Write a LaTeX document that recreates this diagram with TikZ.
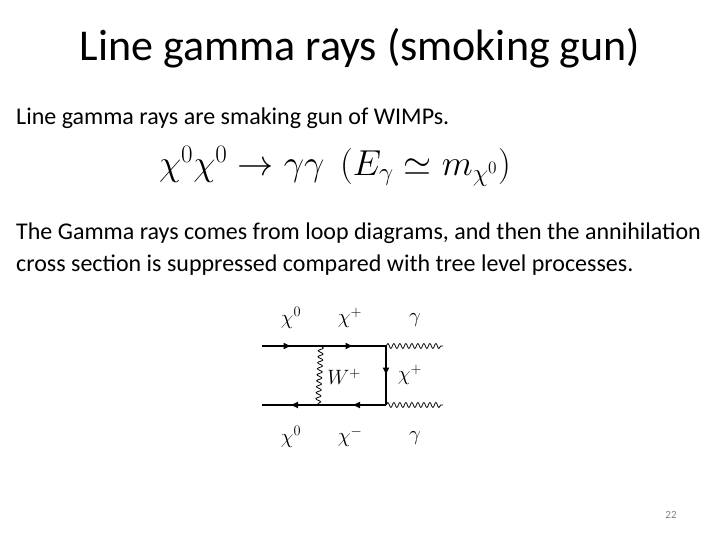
\documentclass[tikz,border=0pt]{standalone}
\usepackage{fontspec}
\setmainfont{Carlito}
\usetikzlibrary{decorations.pathmorphing,decorations.markings,arrows.meta}
\begin{document}
\begin{tikzpicture}[x=1pt,y=-1pt,
  txt/.style={anchor=west,inner sep=0pt,font=\fontsize{24}{28}\selectfont},
  lab/.style={inner sep=0pt,font=\fontsize{20}{24}\selectfont},
  fer/.style={line width=1.3pt,postaction={decorate},decoration={markings,mark=at position 0.5 with {\arrow{Latex[length=8pt,width=7pt]}}}},
  pho/.style={line width=0.8pt,decorate,decoration={snake,amplitude=2.5pt,segment length=6pt}}]
\useasboundingbox (0,0) rectangle (720,540);
\node[inner sep=0pt,font=\fontsize{44}{50}\selectfont] (title) at (360,48) {Line gamma rays (smoking gun)};
\node[txt] (l1) at (16,118) {Line gamma rays are smaking gun of WIMPs.};
\node[inner sep=0pt,scale=1.45,font=\fontsize{24}{28}\selectfont] (eq) at (335,166) {$\chi^0\chi^0 \to \gamma\gamma\ \ (E_\gamma \simeq m_{\chi^0})$};
\node[txt] (l2) at (16,233) {The Gamma rays comes from loop diagrams, and then the annihilation};
\node[txt] (l3) at (16,265) {cross section is suppressed compared with tree level processes.};
\node[inner sep=0pt,font=\fontsize{11}{13}\selectfont,text=gray] (pg) at (671,515) {22};
% diagram
\coordinate (a) at (262,346); \coordinate (b) at (321,346); \coordinate (c) at (386,346);
\coordinate (d) at (262,405); \coordinate (e) at (318,405); \coordinate (f) at (386,405);
\coordinate (g1) at (443,346); \coordinate (g2) at (443,405);
\draw[fer] (a) -- (b); \draw[fer] (b) -- (c); \draw[fer] (c) -- (f);
\draw[fer] (f) -- (e); \draw[fer] (e) -- (d);
\draw[pho] (b) -- (e); \draw[pho] (c) -- (g1); \draw[pho] (f) -- (g2);
\node[lab] (t1) at (291,318) {$\chi^0$};
\node[lab] (t2) at (350,318) {$\chi^+$};
\node[lab] (t3) at (415,320) {$\gamma$};
\node[lab] (t4) at (344,377) {$W^+$};
\node[lab] (t5) at (410,375) {$\chi^+$};
\node[lab] (t6) at (291,437) {$\chi^0$};
\node[lab] (t7) at (350,437) {$\chi^-$};
\node[lab] (t8) at (415,438) {$\gamma$};
\end{tikzpicture}
\end{document}
